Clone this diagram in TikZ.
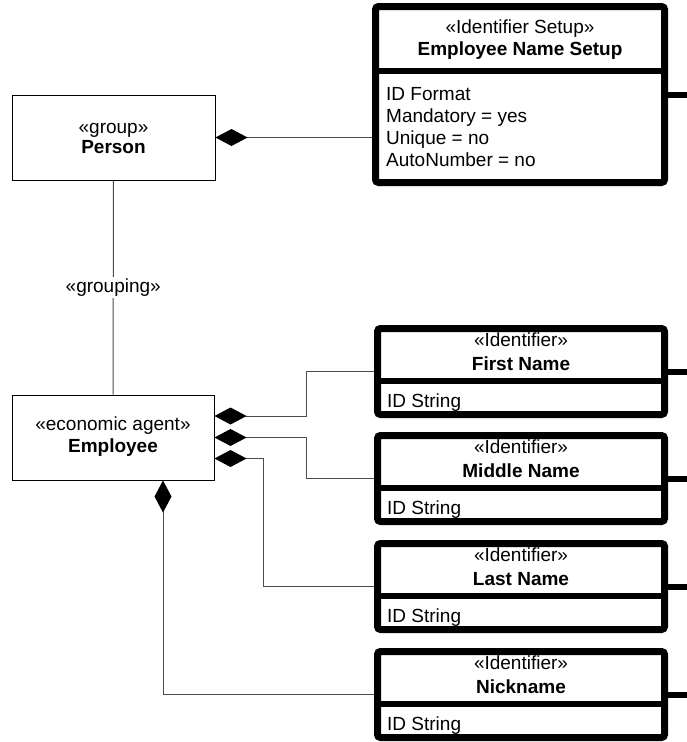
\documentclass[tikz,border=0pt]{standalone}
\usepackage{fontspec}
\setmainfont{Liberation Sans}
\usetikzlibrary{arrows.meta}
\newcommand\mkidbox[4]{%
  \node[thickbox, minimum width=287pt, minimum height=86pt] (#1) at (521,{#2+46.5}) {};
  \draw[divider] (#1.west |- 0,{#2+56}) -- (#1.east |- 0,{#2+56});
  \node[txt] (#1st) at (521,{#2+21}) {«Identifier»};
  \node[txt, boldtxt] (#1nm) at (521,{#2+45}) {#3};
  \node[attr] (#1at) at (387,{#2+82}) {#4};
  \coordinate (#1r) at (687,{#2+46.5});
  \draw[line width=6pt] (#1.east) -- (#1r);
}
\begin{document}
\begin{tikzpicture}[x=1pt,y=-1pt,
  every node/.style={font=\fontsize{19}{23}\selectfont},
  boldtxt/.style={font=\fontsize{19}{23}\selectfont\bfseries},
  thinbox/.style={draw=black, line width=1pt, fill=white, inner sep=0pt},
  thickbox/.style={draw=black, line width=7pt, rounded corners=3pt, fill=white, inner sep=0pt},
  divider/.style={line width=6pt},
  txt/.style={inner sep=0pt, anchor=base},
  attr/.style={inner sep=0pt, anchor=base west},
  conn/.style={draw=black!70, line width=1pt},
  comp/.style={{Diamond[length=32pt,width=17pt,color=black]}-}
]
\useasboundingbox (0,0) rectangle (687,742);

% Person
\node[thinbox, minimum width=203pt, minimum height=85pt] (person) at (113.5,137.5) {};
\node[txt] (personst) at (113.5,133) {«group»};
\node[txt, boldtxt] (personnm) at (113.5,153) {Person};

% Employee
\node[thinbox, minimum width=202pt, minimum height=85pt] (employee) at (113,437.5) {};
\node[txt] (employeest) at (113,430) {«economic agent»};
\node[txt, boldtxt] (employeenm) at (113,452) {Employee};

% Employee Name Setup
\node[thickbox, minimum width=289pt, minimum height=176pt] (setup) at (520,94.5) {};
\draw[divider] (setup.west |- 0,71) -- (setup.east |- 0,71);
\node[txt] (setupst) at (520,33) {«Identifier Setup»};
\node[txt, boldtxt] (setupnm) at (520,55) {Employee Name Setup};
\node[attr] (a1) at (386,100) {ID Format};
\node[attr] (a2) at (386,122) {Mandatory = yes};
\node[attr] (a3) at (386,144) {Unique = no};
\node[attr] (a4) at (386,166) {AutoNumber = no};
\coordinate (setupr) at (687,94.5);
\draw[line width=6pt] (setup.east) -- (setupr);

% Identifier boxes
\mkidbox{first}{325}{First Name}{ID String}
\mkidbox{middle}{432}{Middle Name}{ID String}
\mkidbox{last}{540}{Last Name}{ID String}
\mkidbox{nick}{648}{Nickname}{ID String}

% Connectors
\draw[conn, comp] (person.east) -- (person.east -| setup.west);
\draw[conn] (person.south) -- (employee.north)
  node[midway, fill=white, inner sep=2pt] (grp) {«grouping»};
\draw[conn, comp] ([yshift=21.5pt]employee.east) -- ++(92,0) |- (first.west);
\draw[conn, comp] (employee.east) -- ++(92,0) |- (middle.west);
\draw[conn, comp] ([yshift=-21pt]employee.east) -- ++(49,0) |- (last.west);
\draw[conn, comp] ([xshift=50pt]employee.south) |- (nick.west);
\end{tikzpicture}
\end{document}
